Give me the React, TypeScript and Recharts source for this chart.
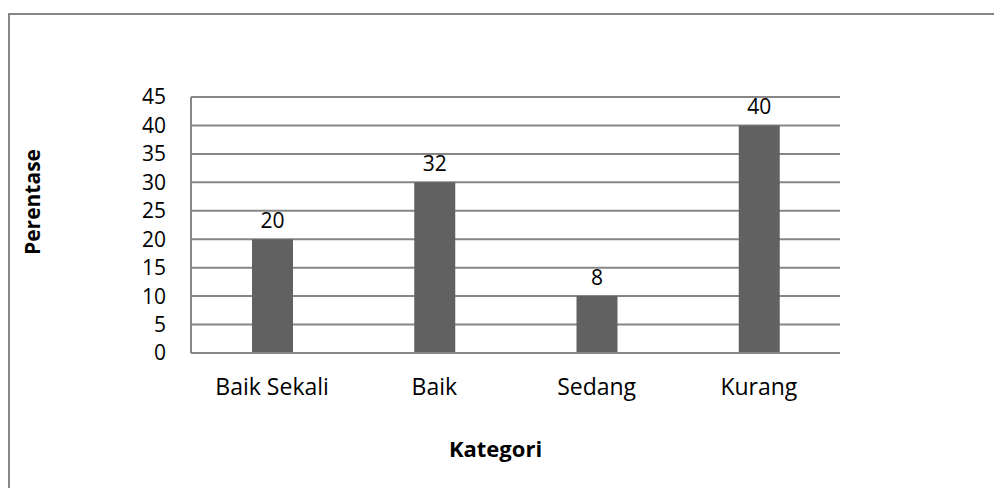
import React from "react";
import { BarChart, Bar, XAxis, YAxis, CartesianGrid, LabelList } from "recharts";

const categories = ["Baik Sekali", "Baik", "Sedang", "Kurang"];
const barValues = [20, 30, 10, 40];
const barLabels = ["20", "32", "8", "40"];
const yTicks = [0, 5, 10, 15, 20, 25, 30, 35, 40, 45];

const data = categories.map((c, i) => ({ name: c, value: barValues[i], label: barLabels[i] }));

const FONT = "'Open Sans', sans-serif";
const GRID = "#868686";

export default function App() {
  return (
    <div style={{ position: "absolute", left: 0, top: 0, width: 994, height: 488, background: "#fff", overflow: "hidden" }}>
      <div
        style={{
          position: "absolute",
          left: 8,
          top: 13,
          width: 1000,
          height: 500,
          borderTop: `2px solid ${GRID}`,
          borderLeft: `2px solid ${GRID}`,
          boxSizing: "border-box",
        }}
      />
      <div style={{ position: "absolute", left: 0, top: 0 }}>
        <BarChart
          width={994}
          height={488}
          data={data}
          margin={{ top: 97, right: 154, left: 131, bottom: 35 }}
          style={{ fontFamily: FONT }}
        >
          <CartesianGrid vertical={false} stroke={GRID} strokeWidth={2} />
          <XAxis
            dataKey="name"
            height={100}
            tickSize={0}
            tickMargin={26}
            axisLine={{ stroke: GRID, strokeWidth: 2 }}
            tickLine={false}
            tick={{ fill: "#000", fontSize: 23, fontFamily: FONT }}
            label={{
              value: "Kategori",
              position: "insideBottom",
              offset: 0,
              dy: 4,
              dx: -20,
              style: { fill: "#000", fontSize: 22, fontWeight: 700, fontFamily: FONT },
            }}
          />
          <YAxis
            domain={[0, 45]}
            ticks={yTicks}
            width={60}
            tickSize={0}
            tickMargin={25}
            interval={0}
            axisLine={{ stroke: GRID, strokeWidth: 2 }}
            tickLine={false}
            tick={{ fill: "#000", fontSize: 21, fontFamily: FONT }}
          />
          <Bar dataKey="value" fill="#616161" barSize={41} isAnimationActive={false}>
            <LabelList
              dataKey="label"
              position="top"
              offset={11}
              style={{ fill: "#000", fontSize: 21, fontFamily: FONT }}
            />
          </Bar>
        </BarChart>
      </div>
      <div
        style={{
          position: "absolute",
          left: 32,
          top: 202,
          transform: "translate(-50%, -50%) rotate(-90deg)",
          fontFamily: FONT,
          fontWeight: 700,
          fontSize: 21,
          color: "#000",
          whiteSpace: "nowrap",
          lineHeight: 1,
        }}
      >
        Perentase
      </div>
    </div>
  );
}
